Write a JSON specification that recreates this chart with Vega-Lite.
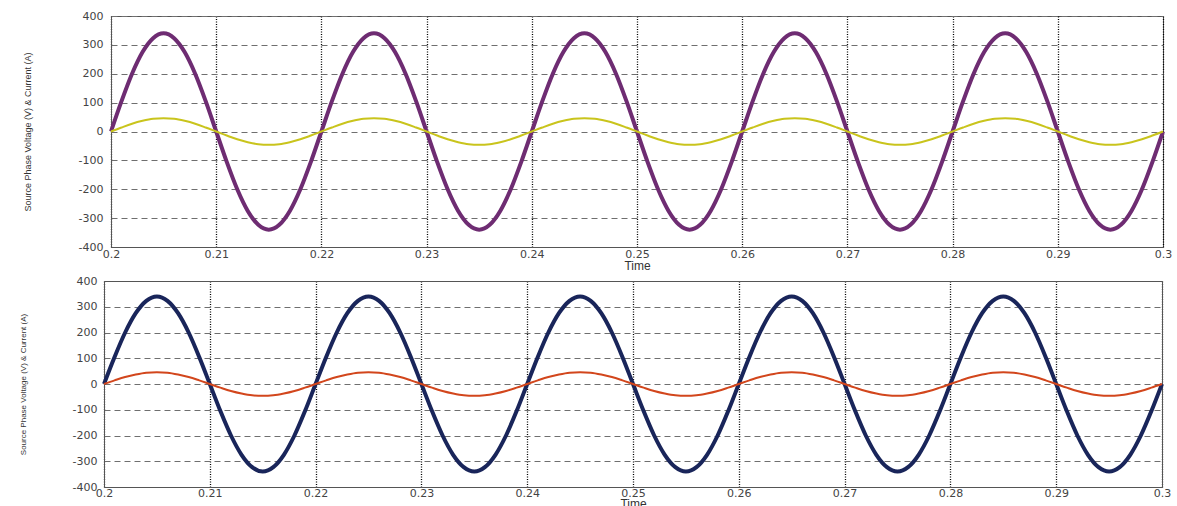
{
  "$schema": "https://vega.github.io/schema/vega-lite/v6.json",
  "background": "white",
  "padding": {"top": 9, "left": 19, "right": 0, "bottom": 0},
  "spacing": 3,
  "config": {
    "view": {"stroke": "#555", "strokeWidth": 1},
    "axis": {
      "labelFont": "DejaVu Sans",
      "labelFontSize": 11,
      "labelColor": "#444",
      "titleFont": "Liberation Sans",
      "titleColor": "#333",
      "titleFontWeight": "normal",
      "domainColor": "#555",
      "ticks": false,
      "labelFlush": false,
      "labelOverlap": false,
      "gridOpacity": 1
    }
  },
  "datasets": {
    "wave": [
      {"t": 0.200, "v": 0, "i": 0},
      {"t": 0.201, "v": 105, "i": 14},
      {"t": 0.202, "v": 200, "i": 27},
      {"t": 0.203, "v": 275, "i": 37},
      {"t": 0.204, "v": 323, "i": 44},
      {"t": 0.205, "v": 340, "i": 46},
      {"t": 0.206, "v": 323, "i": 44},
      {"t": 0.207, "v": 275, "i": 37},
      {"t": 0.208, "v": 200, "i": 27},
      {"t": 0.209, "v": 105, "i": 14},
      {"t": 0.210, "v": 0, "i": 0},
      {"t": 0.211, "v": -105, "i": -14},
      {"t": 0.212, "v": -200, "i": -27},
      {"t": 0.213, "v": -275, "i": -37},
      {"t": 0.214, "v": -323, "i": -44},
      {"t": 0.215, "v": -340, "i": -46},
      {"t": 0.216, "v": -323, "i": -44},
      {"t": 0.217, "v": -275, "i": -37},
      {"t": 0.218, "v": -200, "i": -27},
      {"t": 0.219, "v": -105, "i": -14},
      {"t": 0.220, "v": 0, "i": 0},
      {"t": 0.221, "v": 105, "i": 14},
      {"t": 0.222, "v": 200, "i": 27},
      {"t": 0.223, "v": 275, "i": 37},
      {"t": 0.224, "v": 323, "i": 44},
      {"t": 0.225, "v": 340, "i": 46},
      {"t": 0.226, "v": 323, "i": 44},
      {"t": 0.227, "v": 275, "i": 37},
      {"t": 0.228, "v": 200, "i": 27},
      {"t": 0.229, "v": 105, "i": 14},
      {"t": 0.230, "v": 0, "i": 0},
      {"t": 0.231, "v": -105, "i": -14},
      {"t": 0.232, "v": -200, "i": -27},
      {"t": 0.233, "v": -275, "i": -37},
      {"t": 0.234, "v": -323, "i": -44},
      {"t": 0.235, "v": -340, "i": -46},
      {"t": 0.236, "v": -323, "i": -44},
      {"t": 0.237, "v": -275, "i": -37},
      {"t": 0.238, "v": -200, "i": -27},
      {"t": 0.239, "v": -105, "i": -14},
      {"t": 0.240, "v": 0, "i": 0},
      {"t": 0.241, "v": 105, "i": 14},
      {"t": 0.242, "v": 200, "i": 27},
      {"t": 0.243, "v": 275, "i": 37},
      {"t": 0.244, "v": 323, "i": 44},
      {"t": 0.245, "v": 340, "i": 46},
      {"t": 0.246, "v": 323, "i": 44},
      {"t": 0.247, "v": 275, "i": 37},
      {"t": 0.248, "v": 200, "i": 27},
      {"t": 0.249, "v": 105, "i": 14},
      {"t": 0.250, "v": 0, "i": 0},
      {"t": 0.251, "v": -105, "i": -14},
      {"t": 0.252, "v": -200, "i": -27},
      {"t": 0.253, "v": -275, "i": -37},
      {"t": 0.254, "v": -323, "i": -44},
      {"t": 0.255, "v": -340, "i": -46},
      {"t": 0.256, "v": -323, "i": -44},
      {"t": 0.257, "v": -275, "i": -37},
      {"t": 0.258, "v": -200, "i": -27},
      {"t": 0.259, "v": -105, "i": -14},
      {"t": 0.260, "v": 0, "i": 0},
      {"t": 0.261, "v": 105, "i": 14},
      {"t": 0.262, "v": 200, "i": 27},
      {"t": 0.263, "v": 275, "i": 37},
      {"t": 0.264, "v": 323, "i": 44},
      {"t": 0.265, "v": 340, "i": 46},
      {"t": 0.266, "v": 323, "i": 44},
      {"t": 0.267, "v": 275, "i": 37},
      {"t": 0.268, "v": 200, "i": 27},
      {"t": 0.269, "v": 105, "i": 14},
      {"t": 0.270, "v": 0, "i": 0},
      {"t": 0.271, "v": -105, "i": -14},
      {"t": 0.272, "v": -200, "i": -27},
      {"t": 0.273, "v": -275, "i": -37},
      {"t": 0.274, "v": -323, "i": -44},
      {"t": 0.275, "v": -340, "i": -46},
      {"t": 0.276, "v": -323, "i": -44},
      {"t": 0.277, "v": -275, "i": -37},
      {"t": 0.278, "v": -200, "i": -27},
      {"t": 0.279, "v": -105, "i": -14},
      {"t": 0.280, "v": 0, "i": 0},
      {"t": 0.281, "v": 105, "i": 14},
      {"t": 0.282, "v": 200, "i": 27},
      {"t": 0.283, "v": 275, "i": 37},
      {"t": 0.284, "v": 323, "i": 44},
      {"t": 0.285, "v": 340, "i": 46},
      {"t": 0.286, "v": 323, "i": 44},
      {"t": 0.287, "v": 275, "i": 37},
      {"t": 0.288, "v": 200, "i": 27},
      {"t": 0.289, "v": 105, "i": 14},
      {"t": 0.290, "v": 0, "i": 0},
      {"t": 0.291, "v": -105, "i": -14},
      {"t": 0.292, "v": -200, "i": -27},
      {"t": 0.293, "v": -275, "i": -37},
      {"t": 0.294, "v": -323, "i": -44},
      {"t": 0.295, "v": -340, "i": -46},
      {"t": 0.296, "v": -323, "i": -44},
      {"t": 0.297, "v": -275, "i": -37},
      {"t": 0.298, "v": -200, "i": -27},
      {"t": 0.299, "v": -105, "i": -14},
      {"t": 0.300, "v": 0, "i": 0}
    ]
  },
  "vconcat": [
    {
      "width": 1052,
      "height": 231,
      "data": {"name": "wave"},
      "encoding": {
        "x": {
          "field": "t", "type": "quantitative",
          "scale": {"domain": [0.2, 0.3], "nice": false, "zero": false},
          "axis": {
            "values": [0.2, 0.21, 0.22, 0.23, 0.24, 0.25, 0.26, 0.27, 0.28, 0.29, 0.3],
            "labelExpr": "format(datum.value, '.2~f')",
            "title": "Time", "titleFontSize": 12, "titlePadding": 1, "labelPadding": 1,
            "gridColor": "#000", "gridDash": [1, 1.5], "gridWidth": 1.3
          }
        }
      },
      "layer": [
        {
          "mark": {"type": "line", "color": "#6E2C72", "strokeWidth": 4, "interpolate": "monotone"},
          "encoding": {
            "y": {
              "field": "v", "type": "quantitative",
              "scale": {"domain": [-400, 400], "nice": false},
              "axis": {
                "values": [-400, -300, -200, -100, 0, 100, 200, 300, 400],
                "labelExpr": "'' + datum.value",
                "title": "Source Phase Voltage (V) & Current (A)",
                "titleFontSize": 9, "titlePadding": 46, "labelPadding": 8,
                "gridColor": "#6f6f6f", "gridDash": [6, 4]
              }
            }
          }
        },
        {
          "mark": {"type": "line", "color": "#C9C41C", "strokeWidth": 2, "interpolate": "monotone"},
          "encoding": {
            "y": {
              "field": "i", "type": "quantitative",
              "scale": {"domain": [-400, 400], "nice": false},
              "axis": {
                "values": [-400, -300, -200, -100, 0, 100, 200, 300, 400],
                "labelExpr": "'' + datum.value",
                "title": "Source Phase Voltage (V) & Current (A)",
                "titleFontSize": 9, "titlePadding": 46, "labelPadding": 8,
                "gridColor": "#6f6f6f", "gridDash": [6, 4]
              }
            }
          }
        }
      ]
    },
    {
      "width": 1051,
      "height": 206,
      "view": {"stroke": null},
      "data": {"name": "wave"},
      "layer": [
        {
          "mark": {"type": "line", "color": "#19255A", "strokeWidth": 4, "interpolate": "monotone"},
          "encoding": {
            "x": {
              "field": "t", "type": "quantitative",
              "scale": {"domain": [0.2, 0.3], "nice": false, "zero": false, "range": [-7, 1051]},
              "axis": {
                "orient": "bottom",
                "values": [0.2, 0.21, 0.22, 0.23, 0.24, 0.25, 0.26, 0.27, 0.28, 0.29, 0.3],
                "labelExpr": "format(datum.value, '.2~f')",
                "title": "Time", "titleFontSize": 12, "titlePadding": 0, "labelPadding": 0,
                "gridColor": "#000", "gridDash": [1, 1.5], "gridWidth": 1.3
              }
            },
            "y": {
              "field": "v", "type": "quantitative",
              "scale": {"domain": [-400, 400], "nice": false},
              "axis": {
                "orient": "left",
                "offset": 7,
                "values": [-400, -300, -200, -100, 0, 100, 200, 300, 400],
                "labelExpr": "'' + datum.value",
                "title": "Source Phase Voltage (V) & Current (A)",
                "titleFontSize": 8, "titlePadding": 45, "labelPadding": 7,
                "gridColor": "#6f6f6f", "gridDash": [6, 4]
              }
            }
          }
        },
        {
          "mark": {"type": "line", "color": "#D2461C", "strokeWidth": 2, "interpolate": "monotone"},
          "encoding": {
            "x": {
              "field": "t", "type": "quantitative",
              "axis": {"orient": "top", "labels": false, "grid": false, "title": null, "domain": true, "ticks": false}
            },
            "y": {
              "field": "i", "type": "quantitative",
              "axis": {"orient": "right", "labels": false, "grid": false, "title": null, "domain": true, "ticks": false}
            }
          }
        }
      ]
    }
  ]
}
